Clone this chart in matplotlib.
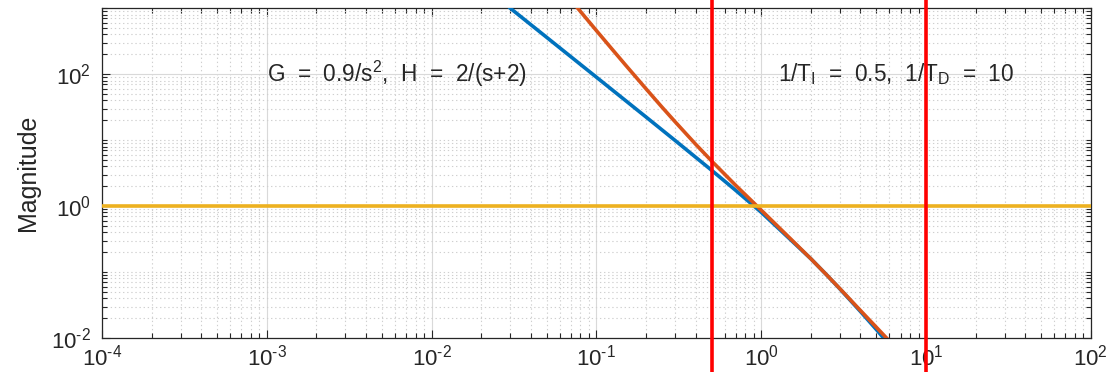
import math
import matplotlib
matplotlib.use("Agg")
import matplotlib.pyplot as plt
import matplotlib.ticker as mticker

plt.rcParams["font.family"] = ["Liberation Sans", "DejaVu Sans"]
plt.rcParams["mathtext.fontset"] = "custom"
plt.rcParams["mathtext.rm"] = "Liberation Sans"
plt.rcParams["mathtext.it"] = "Liberation Sans:italic"
plt.rcParams["mathtext.bf"] = "Liberation Sans:bold"

# values
w_loop = [0.03, 0.05, 0.1, 0.2, 0.3, 0.5, 0.7, 1.0, 1.5, 2.0, 2.5, 3.0, 4.0, 5.0, 5.6]
mag_loop = [1000, 360, 89.9, 22.4, 9.89, 3.49, 1.73, 0.805, 0.312, 0.159, 0.0899,
            0.0555, 0.0252, 0.0134, 0.0096]

w_comp = [0.077, 0.1, 0.125, 0.15, 0.2, 0.25, 0.3, 0.4, 0.5, 0.7, 1.0, 1.5, 2.0,
          2.5, 3.0, 4.0, 5.0, 5.8]
mag_comp = [1000, 457, 236, 138, 59.9, 31.6, 19.0, 8.66, 4.82, 2.06, 0.867, 0.322,
            0.159, 0.0899, 0.056, 0.0261, 0.0145, 0.0098]

w_unity = [1e-4, 1e2]
mag_unity = [1, 1]

w_corners = [0.5, 10]

label_G = "G  =  0.9/s$^{2}$,  H  =  2/(s+2)"
label_T = "1/T$_{\\mathrm{I}}$  =  0.5,  1/T$_{\\mathrm{D}}$  =  10"


def pow10(v, _):
    e = int(round(math.log10(v)))
    return "10$^{\\text{%d}}$" % e


fig = plt.figure(figsize=(11.12, 3.72), dpi=100)
ax = fig.add_axes([0.0917, 0.0914, 0.8893, 0.8866])

ax.set_xscale("log")
ax.set_yscale("log")
ax.set_xlim(1e-4, 1e2)
ax.set_ylim(1e-2, 1e3)

ax.grid(True, which="major", color="#d9d9d9", linewidth=0.8)
ax.grid(True, which="minor", color="#cfcfcf", linestyle=(0, (1.2, 2.5)), linewidth=0.8)

ax.plot(w_loop, mag_loop, color="#0072BD", linewidth=2.6, zorder=3)
ax.plot(w_comp, mag_comp, color="#D95319", linewidth=2.6, zorder=3)
ax.plot(w_unity, mag_unity, color="#EDB120", linewidth=2.6, zorder=3)
for wc in w_corners:
    ax.axvline(wc, ymin=-0.12, ymax=1.04, color="#FF0000", linewidth=2.6,
               clip_on=False, zorder=4)

ax.text(1.0e-3, 100, label_G, fontsize=16.3, color="#262626", va="center", ha="left")
ax.text(1.26, 100, label_T, fontsize=16.3, color="#262626", va="center", ha="left")

ax.set_ylabel("Magnitude", fontsize=18, color="#262626", labelpad=8)

ax.xaxis.set_major_locator(mticker.LogLocator(base=10, numticks=10))
ax.yaxis.set_major_locator(mticker.FixedLocator([1e-2, 1e0, 1e2]))
ax.yaxis.set_minor_locator(mticker.LogLocator(base=10, subs=range(1, 10), numticks=20))
ax.xaxis.set_minor_locator(mticker.LogLocator(base=10, subs=range(2, 10), numticks=20))
ax.xaxis.set_major_formatter(mticker.FuncFormatter(pow10))
ax.yaxis.set_major_formatter(mticker.FuncFormatter(pow10))
ax.yaxis.set_minor_formatter(mticker.NullFormatter())
ax.xaxis.set_minor_formatter(mticker.NullFormatter())

ax.tick_params(which="both", direction="in", top=True, right=True, colors="#262626",
               labelsize=16)
ax.tick_params(which="major", length=6, width=0.8)
ax.tick_params(which="minor", length=3.5, width=0.8)
ax.tick_params(axis="x", pad=5)
ax.tick_params(axis="y", pad=8)
for spine in ax.spines.values():
    spine.set_edgecolor("#262626")
    spine.set_linewidth(0.9)

fig.savefig("out.png", dpi=100)
